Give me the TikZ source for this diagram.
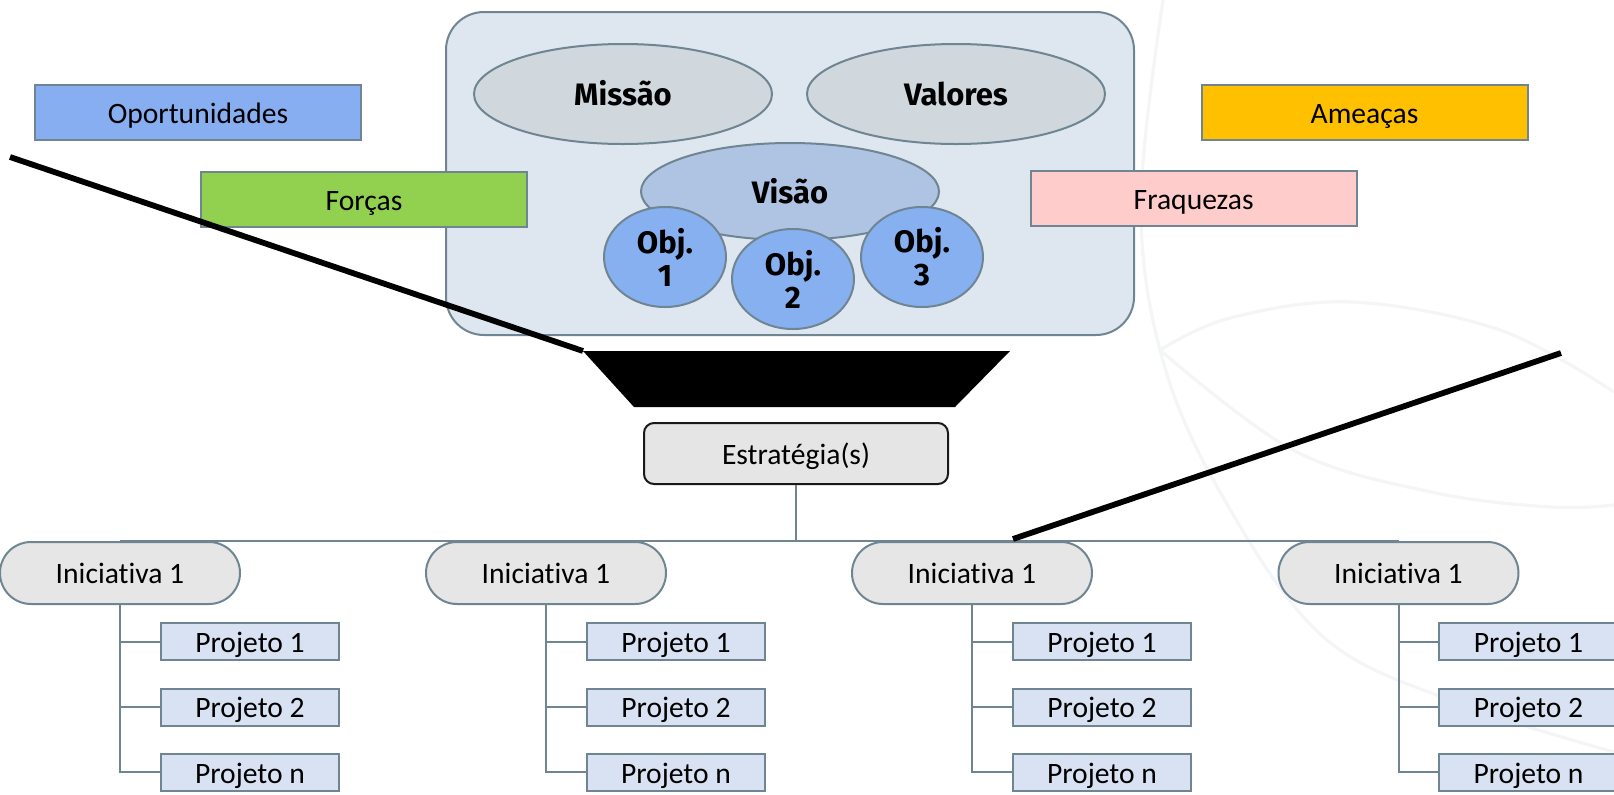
\documentclass[tikz,border=0pt]{standalone}
\usepackage{fontspec}
\setmainfont{Carlito}[Ligatures=NoCommon]
\newfontfamily\headfont{Fira Sans}
\usetikzlibrary{shapes.geometric}

\definecolor{edge}{HTML}{6F8592}
\definecolor{corefill}{HTML}{DEE6F0}
\definecolor{grayell}{HTML}{D0D8DE}
\definecolor{visfill}{HTML}{AFC4E3}
\definecolor{objfill}{HTML}{87B0F0}
\definecolor{oport}{HTML}{87AEF0}
\definecolor{forca}{HTML}{92D050}
\definecolor{ameaca}{HTML}{FFC000}
\definecolor{fraq}{HTML}{FFCCCC}
\definecolor{estfill}{HTML}{E5E5E5}
\definecolor{pillfill}{HTML}{E6E6E6}
\definecolor{projfill}{HTML}{D9E2F3}
\definecolor{mark}{HTML}{F3F5F7}

\newcommand\lblfont{\fontsize{14.8pt}{17.5pt}\selectfont}
\newcommand\boldfont{\headfont\bfseries\fontsize{15.5pt}{16.5pt}\selectfont}

\tikzset{
  plain/.style={inner sep=0pt, font=\lblfont, text height=12.4pt, text depth=1.5pt},
  swot/.style={plain, draw=edge, line width=1pt, minimum width=163pt, minimum height=27.5pt},
  corebox/.style={draw=edge, line width=1pt, fill=corefill, rounded corners=19pt,
    minimum width=344pt, minimum height=161.5pt, inner sep=0pt},
  vm/.style={ellipse, draw=edge, line width=1pt, fill=grayell, inner sep=0pt,
    minimum width=149pt, minimum height=50pt, font=\boldfont, text height=11.5pt, text depth=0pt},
  visao/.style={vm, fill=visfill, minimum height=48.5pt},
  objcircle/.style={ellipse, draw=edge, line width=1pt, fill=objfill, inner sep=0pt,
    minimum width=61pt, minimum height=50pt, font=\boldfont, align=center},
  est/.style={plain, draw=black!90, line width=1pt, fill=estfill, rounded corners=5pt,
    minimum width=152pt, minimum height=30.5pt},
  pill/.style={plain, draw=edge, line width=1pt, fill=pillfill, rounded corners=15.5pt,
    minimum width=120pt, minimum height=31pt},
  proj/.style={plain, draw=edge, line width=1pt, fill=projfill,
    minimum width=89.3pt, minimum height=18.5pt},
  tree/.style={draw=edge, line width=1pt},
  heavy/.style={draw=black, line width=2.9pt},
  watermark/.style={draw=mark, line width=1.6pt}
}

\begin{document}
\begin{tikzpicture}[x=0.5pt,y=-0.5pt]
\useasboundingbox (0,0) rectangle (1614,794);

% faint background swirl
\draw[watermark] plot[smooth, tension=0.6] coordinates
  {(1163,0) (1141,200) (1160,350) (1215,483) (1319,633) (1449,700) (1614,752)};
\draw[watermark] plot[smooth, tension=0.6] coordinates
  {(1160,350) (1230,318) (1352,302) (1500,330) (1614,392)};
\draw[watermark] plot[smooth, tension=0.6] coordinates
  {(1160,350) (1293,450) (1431,492) (1550,507) (1614,505)};

% mission / values / vision block
\node[corebox] (core) at (790,173.5) {};
\node[vm] (missao) at (623,94) {Missão};
\node[vm] (valores) at (956,94) {Valores};
\node[visao] (visao) at (790,191.5) {Visão};
\node[objcircle] (o1) at (665,257) {Obj.\\1};
\node[objcircle] (o2) at (793,279) {Obj.\\2};
\node[objcircle] (o3) at (922,257) {Obj.\\3};

% SWOT boxes
\node[swot, fill=oport]  (op) at (198,112.7)   {Oportunidades};
\node[swot, fill=forca]  (fo) at (364,199.5)   {Forças};
\node[swot, fill=ameaca] (am) at (1364.5,112.7) {Ameaças};
\node[swot, fill=fraq]   (fr) at (1193.7,198.5) {Fraquezas};

% funnel
\coordinate (ftl) at (583,351);
\coordinate (ftr) at (1010,351);
\coordinate (fbr) at (955,407);
\coordinate (fbl) at (634,407);
\fill[black] (ftl) -- (ftr) -- (fbr) -- (fbl) -- cycle;

% strategy
\node[est] (est) at (796,453.5) {Estratégia(s)};

% initiatives and projects
\foreach \k/\cx in {1/120, 2/546, 3/972, 4/1398.5} {
  \node[pill] (i\k) at (\cx,573) {Iniciativa 1};
  \node[proj] (p\k-1) at (\cx+130,641.7) {Projeto 1};
  \node[proj] (p\k-2) at (\cx+130,707) {Projeto 2};
  \node[proj] (p\k-3) at (\cx+130,772.4) {Projeto n};
}

% tree connectors
\draw[tree] (est.south) -- (est.south |- i1.north);
\draw[tree] (i1.north) -- (i4.north);
\foreach \k in {1,...,4} {
  \draw[tree] (i\k.south) |- (p\k-3.west);
  \draw[tree] (i\k.south |- p\k-1.west) -- (p\k-1.west);
  \draw[tree] (i\k.south |- p\k-2.west) -- (p\k-2.west);
}

% heavy guide lines
\coordinate (lfree) at (10,157);
\draw[heavy] (lfree) -- (ftl);
\coordinate (rfoot) at (1013,539);
\coordinate (rfree) at (1561,353);
\draw[heavy] (rfoot) -- (rfree);
\end{tikzpicture}
\end{document}
